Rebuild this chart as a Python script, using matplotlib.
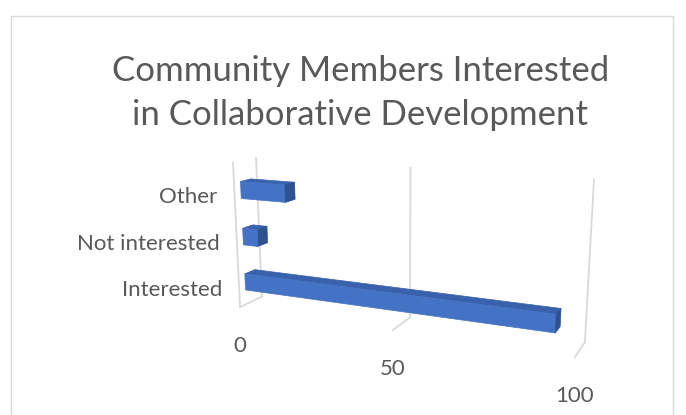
import numpy as np
import matplotlib
matplotlib.use('Agg')
import matplotlib.pyplot as plt
from matplotlib.patches import Rectangle
from matplotlib.transforms import ScaledTranslation

categories = ['Interested', 'Not interested', 'Other']
counts = [94, 5, 15]
value_ticks = [0, 50, 100]
title = 'Community Members Interested\nin Collaborative Development'

text_color = '#595959'
grid_color = '#D9D9D9'
front_c = '#4472C4'
top_c = '#3A62AC'
end_c = '#2F528F'

plt.rcParams['font.family'] = ['Lato', 'DejaVu Sans']

fig = plt.figure(figsize=(6.86, 4.15), dpi=100)
fig.add_artist(Rectangle((11 / 686, -0.1), 662 / 686, 1.1 - 16 / 415,
                         transform=fig.transFigure, fill=False,
                         edgecolor=grid_color, lw=1))
fig.text(0.525, 0.776, title, ha='center', va='center', fontsize=25,
         color=text_color, linespacing=1.45)

ax = fig.add_axes([0.178, -0.0837, 0.8, 0.931], projection='3d')
ax.patch.set_visible(False)
ax.set_proj_type('persp', focal_length=0.4)
ax.view_init(elev=14, azim=-66)
depth = 1.0
ax.set_xlim(0, 100)
ax.set_ylim(0, depth)
ax.set_zlim(0, 3)
ax.set_box_aspect((360, 42, 150), zoom=1.0)
ax.set_axis_off()

# grid on back wall + floor, plus the front edge of the side wall
for v in value_ticks:
    ax.plot([v, v], [depth, depth], [0, 3.1], color=grid_color, lw=1.3, clip_on=False)
    ax.plot([v, v], [0, depth], [0, 0], color=grid_color, lw=1.3, clip_on=False)
ax.plot([0, 0], [0, 0], [0, 3.1], color=grid_color, lw=1.3, clip_on=False)

z = np.arange(len(categories))
bar_h = 0.36
bar_d = 0.45 * depth
faces = []
for _ in categories:
    # -z, +z, -y, +y, -x, +x
    faces += ['none', top_c, front_c, 'none', 'none', end_c]
bars = ax.bar3d(np.zeros(len(counts)), np.full(len(counts), (depth - bar_d) / 2),
                z + (1 - bar_h) / 2, counts, bar_d, bar_h,
                color=faces, edgecolor=faces, linewidth=0.5, shade=False)
bars.set_clip_on(False)

below = ax.transData + ScaledTranslation(0, -0.39, fig.dpi_scale_trans)
for v in value_ticks:
    ax.text(v, 0, 0, str(v), ha='center', va='center', fontsize=16,
            color=text_color, transform=below, clip_on=False)
left = ax.transData + ScaledTranslation(-0.17, -0.05, fig.dpi_scale_trans)
for zi, cat in zip(z, categories):
    ax.text(0, 0, zi + 0.5, cat, ha='right', va='center', fontsize=16,
            color=text_color, transform=left, clip_on=False)

fig.savefig('out.png', dpi=100, facecolor='white')
